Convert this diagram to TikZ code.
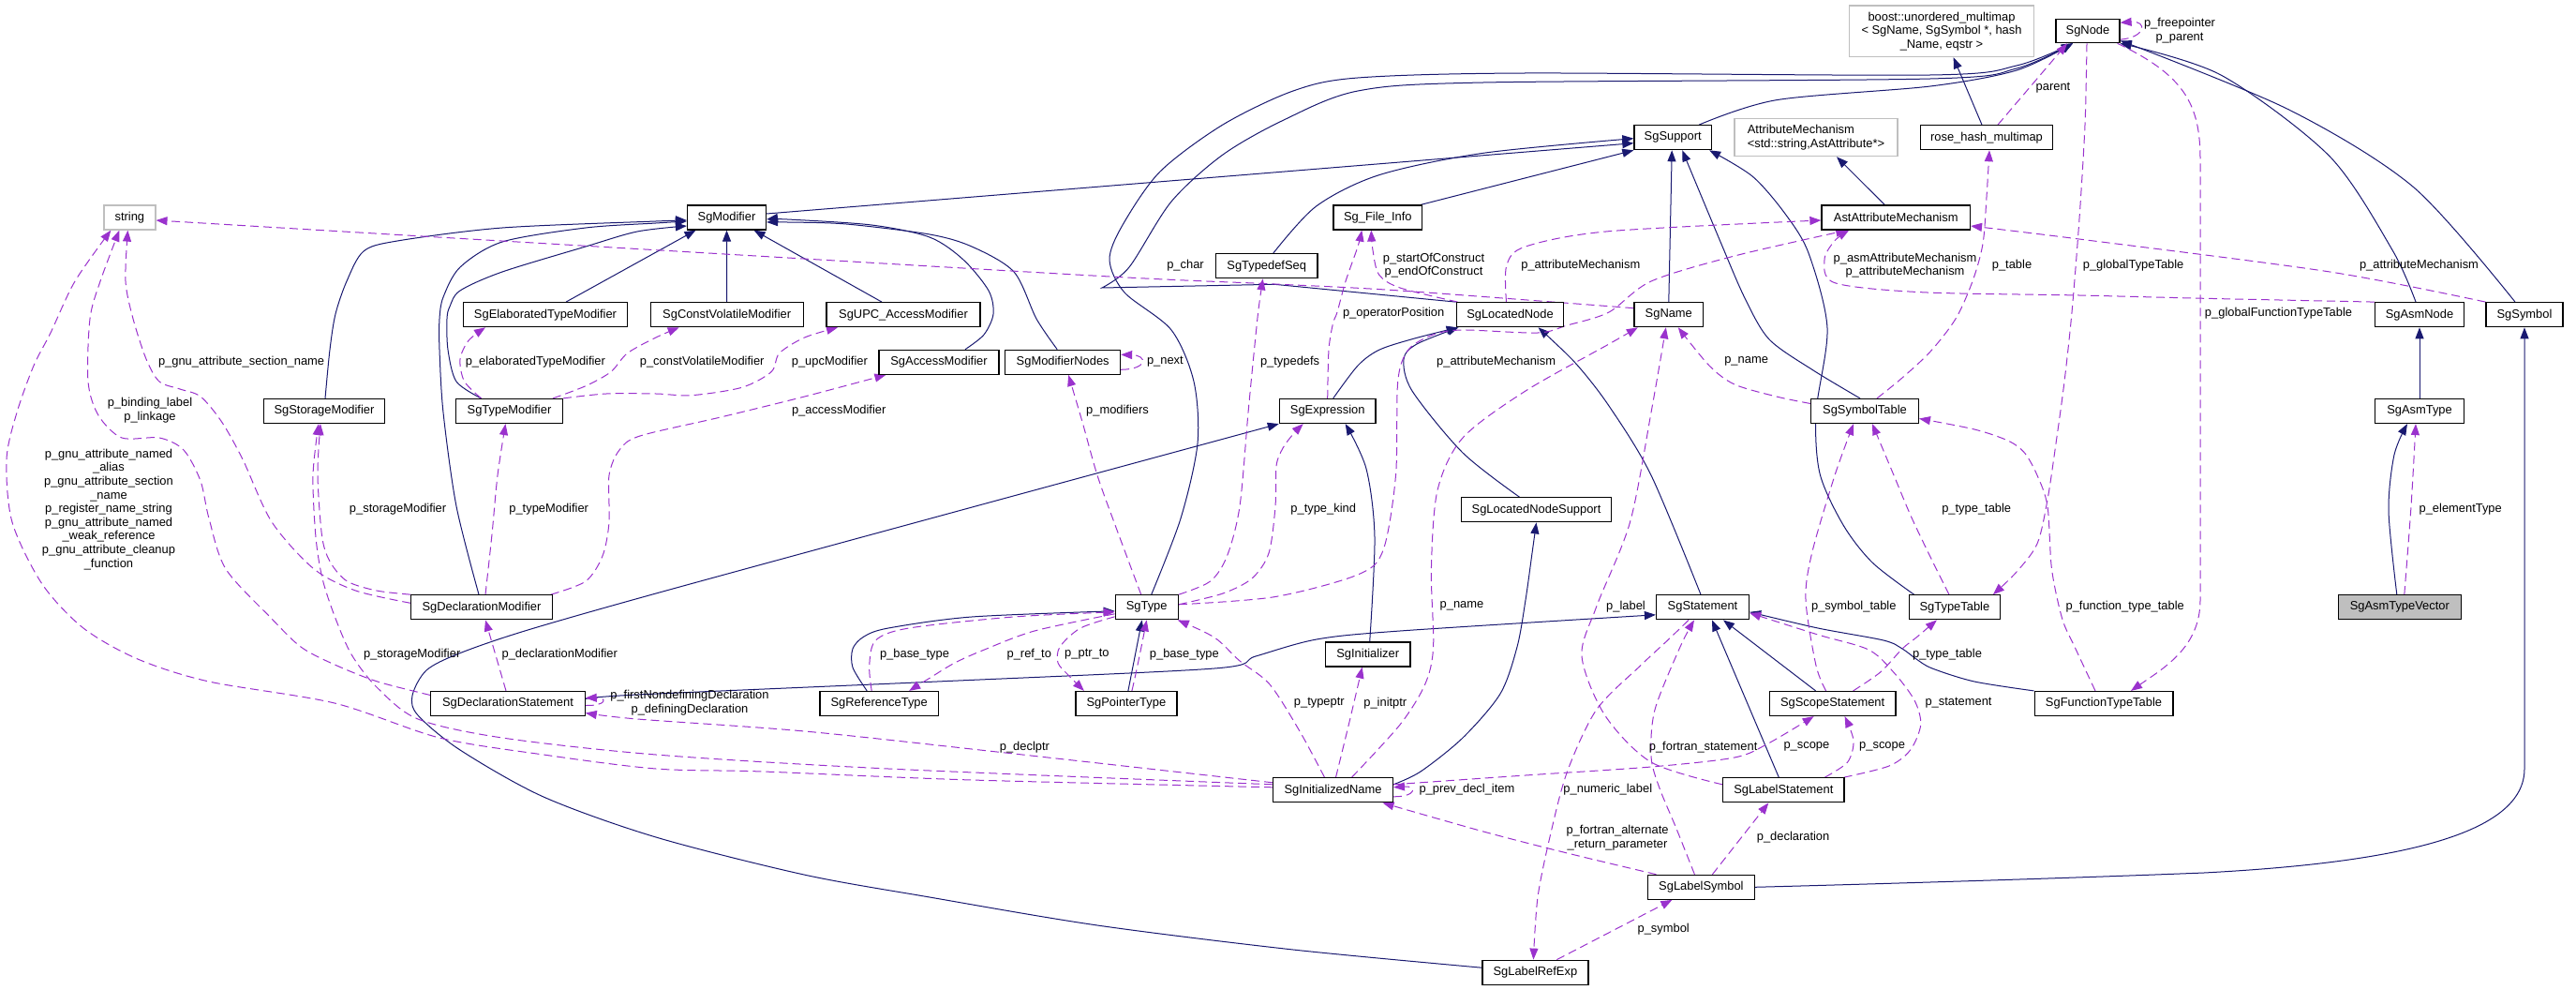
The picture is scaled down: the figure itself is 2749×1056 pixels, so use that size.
\documentclass[tikz,border=0pt]{standalone}
\usepackage{fontspec}
\setmainfont{Liberation Sans}
\usetikzlibrary{arrows.meta}
\definecolor{navy}{RGB}{25,25,112}
\definecolor{purp}{RGB}{154,50,205}
\definecolor{lgray}{RGB}{191,191,191}
\pgfdeclarelayer{bg}
\pgfsetlayers{bg,main}
\newcommand\lf{\fontsize{12.9}{14.6}\selectfont}
\begin{document}
\begin{tikzpicture}[x=1pt,y=-1pt,
  cls/.style={draw=black,line width=1.2pt,fill=white,minimum height=26pt,inner sep=0pt,font=\lf},
  ext/.style={cls,draw=lgray},
  lbl/.style={font=\lf,inner sep=0pt,align=center},
  inh/.style={draw=navy,line width=1pt,-{Triangle[length=12pt,width=9pt]}},
  ptr/.style={draw=purp,line width=1pt,dash pattern=on 9pt off 5pt,-{Triangle[length=12pt,width=9pt]}},
]
\useasboundingbox (0,0) rectangle (2749,1056);
% ---------- nodes ----------
\node[ext,minimum width=55pt] (string) at (138.4,232) {string};
\node[cls,minimum width=84pt] (SgModifier) at (775.5,232) {SgModifier};
\node[cls,minimum width=175pt] (SgElaboratedTypeModifier) at (582,335.7) {SgElaboratedTypeModifier};
\node[cls,minimum width=163pt] (SgConstVolatileModifier) at (775.7,335.7) {SgConstVolatileModifier};
\node[cls,minimum width=164pt] (SgUPC_AccessModifier) at (964,335.7) {SgUPC\_AccessModifier};
\node[cls,minimum width=108.6pt] (SgTypedefSeq) at (1351.7,283.8) {SgTypedefSeq};
\node[ext,minimum width=196.6pt,minimum height=54.7pt,align=center] (boost) at (2072,33.3) {boost::unordered\_multimap\\< SgName, SgSymbol *, hash\\\_Name, eqstr >};
\node[cls,minimum width=68pt,minimum height=25pt] (SgNode) at (2228,33.2) {SgNode};
\node[cls,minimum width=82.6pt] (SgSupport) at (1785.2,146.7) {SgSupport};
\node[ext,minimum width=174pt,minimum height=40pt,align=left] (AttrMech) at (1938,146.7) {AttributeMechanism\\<std::string,AstAttribute*>};
\node[cls,minimum width=94.6pt] (Sg_File_Info) at (1470.3,232) {Sg\_File\_Info};
\node[cls,minimum width=158.5pt] (AstAttributeMechanism) at (2023.2,232) {AstAttributeMechanism};
\node[cls,minimum width=114.7pt] (SgLocatedNode) at (1611.5,335.7) {SgLocatedNode};
\node[cls,minimum width=73.7pt] (SgName) at (1780.8,335.7) {SgName};
\node[cls,minimum width=140.6pt] (rose_hash_multimap) at (2120,146.7) {rose\_hash\_multimap};
\node[cls,minimum width=94.7pt] (SgAsmNode) at (2582,335.7) {SgAsmNode};
\node[cls,minimum width=82pt] (SgSymbol) at (2694,335.7) {SgSymbol};
\node[cls,minimum width=129.4pt] (SgStorageModifier) at (346,438.5) {SgStorageModifier};
\node[cls,minimum width=113.8pt] (SgTypeModifier) at (543.5,438.5) {SgTypeModifier};
\node[cls,minimum width=128pt] (SgAccessModifier) at (1002,386.3) {SgAccessModifier};
\node[cls,minimum width=122.7pt] (SgModifierNodes) at (1134.2,386.3) {SgModifierNodes};
\node[cls,minimum width=102.7pt] (SgExpression) at (1416.7,438.5) {SgExpression};
\node[cls,minimum width=114.7pt] (SgSymbolTable) at (1990,438.5) {SgSymbolTable};
\node[cls,minimum width=94.7pt] (SgAsmType) at (2582,438.5) {SgAsmType};
\node[cls,minimum width=159.8pt] (SgLocatedNodeSupport) at (1639.5,543.8) {SgLocatedNodeSupport};
\node[cls,minimum width=150.5pt] (SgDeclarationModifier) at (514,647.8) {SgDeclarationModifier};
\node[cls,minimum width=67pt] (SgType) at (1223.7,647.8) {SgType};
\node[cls,minimum width=99pt] (SgStatement) at (1817,647.8) {SgStatement};
\node[cls,minimum width=97.4pt] (SgTypeTable) at (2085.9,647.8) {SgTypeTable};
\node[cls,minimum width=130.8pt,fill=lgray] (SgAsmTypeVector) at (2560.8,647.8) {SgAsmTypeVector};
\node[cls,minimum width=90.6pt] (SgInitializer) at (1459.7,698) {SgInitializer};
\node[cls,minimum width=164.3pt] (SgDeclarationStatement) at (542,750.5) {SgDeclarationStatement};
\node[cls,minimum width=126.4pt] (SgReferenceType) at (938.2,750.5) {SgReferenceType};
\node[cls,minimum width=108pt] (SgPointerType) at (1201.9,750.5) {SgPointerType};
\node[cls,minimum width=134.8pt] (SgScopeStatement) at (1955.6,750.5) {SgScopeStatement};
\node[cls,minimum width=147.8pt] (SgFunctionTypeTable) at (2245,750.5) {SgFunctionTypeTable};
\node[cls,minimum width=127.7pt] (SgInitializedName) at (1422.5,842.8) {SgInitializedName};
\node[cls,minimum width=129.4pt] (SgLabelStatement) at (1903.3,842.8) {SgLabelStatement};
\node[cls,minimum width=113.4pt] (SgLabelSymbol) at (1815.4,946.3) {SgLabelSymbol};
\node[cls,minimum width=113pt] (SgLabelRefExp) at (1638.4,1037.2) {SgLabelRefExp};
% ---------- edges ----------
\begin{pgfonlayer}{bg}
% inheritance
\draw[inh] ([yshift=4pt]SgModifier.east) -- ([yshift=-6pt]SgSupport.west);
\draw[inh] ([xshift=-2pt]Sg_File_Info.north east) -- (SgSupport.south west);
\draw[inh] plot[smooth] coordinates {([xshift=7pt]SgTypedefSeq.north) (1404.6,220) (1471.6,186.7) (1583,163.3) ([yshift=-1pt]SgSupport.west)};
\draw[inh] plot[smooth] coordinates {([xshift=28pt]SgSupport.north) (1895.7,106.7) (2060,92) (2152,75) ([xshift=-16pt]SgNode.south)};
\draw[inh] plot[smooth] coordinates {([xshift=5pt]SgType.north) (1260,553) (1278,473) (1274,407) (1250,352) (1200,312) (1184,277) (1198,240) (1238,183) (1305,133) (1380,97) (1449,83) (1628,78) (2060,80) (2152,70) ([xshift=-16pt]SgNode.south)};
\draw[inh] (SgLocatedNode.north west) -- (1360,303.3) -- (1176,307) -- plot[smooth] coordinates {(1176,307) (1205,285) (1250,215) (1305,165) (1370,128) (1449,97) (1583,88) (2060,84) (2152,73) ([xshift=-16pt]SgNode.south)};
\draw[inh] plot[smooth] coordinates {([xshift=-4pt]SgAsmNode.north) (2553,266.7) (2486,166.7) (2370,80) (SgNode.south east)};
\draw[inh] plot[smooth] coordinates {([xshift=-10pt]SgSymbol.north) (2576,200) (2442,116.7) ([yshift=3pt]SgNode.south east)};
\draw[inh] ([xshift=-5pt]rose_hash_multimap.north) -- ([xshift=12.6pt]boost.south);
\draw[inh] ([xshift=-12pt]AstAttributeMechanism.north) -- ([xshift=22pt]AttrMech.south);
\draw[inh] (SgName.north) -- ([xshift=-1pt]SgSupport.south);
\draw[inh] plot[smooth] coordinates {([xshift=-5pt]SgSymbolTable.north) (1935,395) (1888,362) (1862,318) (1836,258) ([xshift=10pt]SgSupport.south)};
\draw[inh] plot[smooth] coordinates {([xshift=6pt]SgTypeTable.north west) (1998,600) (1967,560) (1942,505) (1938,440) (1950,350) (1930,270) (1905,228) (1870,188) ([xshift=-3pt]SgSupport.south east)};
\draw[inh] plot[smooth] coordinates {([xshift=6pt]SgExpression.north) (1449,390) (1471.6,373.3) (1507,361.7) ([xshift=2pt]SgLocatedNode.south west)};
\draw[inh] plot[smooth] coordinates {([xshift=-18pt]SgLocatedNodeSupport.north) (1561,483) (1507,417) (1498,383) (1512,367) ([xshift=3pt]SgLocatedNode.south west)};
\draw[inh] plot[smooth] coordinates {([xshift=-2pt]SgStatement.north) (1762,507) (1717,433) (1681,387) ([xshift=30pt]SgLocatedNode.south)};
\draw[inh] plot[smooth] coordinates {([yshift=5pt]SgDeclarationStatement.east) (680,741) (1000,727) (1296,713) (1340,700) (1405,682) (1494,673) ([yshift=-8pt]SgStatement.west)};
\draw[inh] ([xshift=-18pt]SgScopeStatement.north) -- ([xshift=22pt]SgStatement.south);
\draw[inh] ([xshift=-5pt]SgLabelStatement.north) -- ([xshift=10pt]SgStatement.south);
\draw[inh] plot[smooth] coordinates {(SgFunctionTypeTable.north west) (2107,727) (2062,713) (2045,703) (2030,692) (2010,683) (1940,670) ([yshift=-5pt]SgStatement.east)};
\draw[inh] plot[smooth] coordinates {([xshift=2pt]SgInitializer.north) (1467,573) (1458,500) ([xshift=19pt]SgExpression.south)};
\draw[inh] plot[smooth] coordinates {([yshift=5pt]SgLabelRefExp.west) (1380,1013) (1171,987) (992,957) (858,933) (700,893) (580,850) (491,800) (446,763) (440,742) (455,715) (490,697) (560,673) (700,633) (1030,543) (SgExpression.south west)};
\draw[inh] plot[smooth] coordinates {([yshift=6pt]SgInitializedName.east) (1516,823) (1561,787) (1601,740) (1619,690) (1628,640) (1635,590) (SgLocatedNodeSupport.south)};
\draw[inh] plot[smooth] coordinates {([xshift=-13pt]SgReferenceType.north) (910,712) (910,692) (922,679) (948,670) (1037,658) ([yshift=-4pt]SgType.west)};
\draw[inh] ([xshift=2pt]SgPointerType.north) -- ([xshift=-5pt]SgType.south);
\draw[inh] (SgLabelSymbol.east) .. controls (2000,943) and (2200,937) .. (2352,931) .. controls (2560,920) and (2694,890) .. (2694,820) -- (SgSymbol.south);
\draw[inh] (SgAsmType.north) -- (SgAsmNode.south);
\draw[inh] plot[smooth] coordinates {([xshift=-3pt]SgAsmTypeVector.north) (2549,545) (2555,485) ([xshift=-13pt]SgAsmType.south)};
\draw[inh] plot[smooth] coordinates {([xshift=1pt]SgStorageModifier.north) (352,373) (358,335) (370,300) (388,268) (424,257) (536,243) (700,236) ([yshift=-3pt]SgModifier.west)};
\draw[inh] plot[smooth] coordinates {([xshift=-3pt]SgDeclarationModifier.north) (487,540) (473,440) (469,373) (469,340) (473,317) (491,285) (536,258) (625,243) (700,238) ([yshift=-4pt]SgModifier.west)};
\draw[inh] plot[smooth] coordinates {([xshift=-30pt]SgTypeModifier.north) (487,407) (478,373) (477,340) (480,327) (491,310) (536,290) (625,263) (680,247) ([yshift=-9pt]SgModifier.west)};
\draw[inh] ([xshift=22pt]SgElaboratedTypeModifier.north) -- ([xshift=-33pt]SgModifier.south);
\draw[inh] (SgConstVolatileModifier.north) -- (SgModifier.south);
\draw[inh] ([xshift=-23pt]SgUPC_AccessModifier.north) -- ([xshift=29pt]SgModifier.south);
\draw[inh] plot[smooth] coordinates {([xshift=28pt]SgAccessModifier.north) (1050,357) (1060,335) (1055,310) (1028,277) (992,253) (930,240) (840,234) ([yshift=-2pt]SgModifier.east)};
\draw[inh] plot[smooth] coordinates {([xshift=-6pt]SgModifierNodes.north) (1106,340) (1082,290) (1037,263) (992,250) (903,239) (840,237) ([yshift=-5pt]SgModifier.east)};
% usage
\draw[ptr] plot[smooth] coordinates {([yshift=7pt]SgName.west) (1494,310) (1360,303) (1184,295) (700,266.7) (400,249) ([yshift=-3pt]string.east)};
\draw[ptr] plot[smooth] coordinates {([yshift=4.5pt]SgDeclarationModifier.west) (379.5,630) (334.8,606.7) (290,556.7) (259,490) (236.6,450) (214,423) (192,415) (170,407) (156,383) (142,340) (134,300) ([xshift=-2pt]string.south)};
\draw[ptr] plot[smooth] coordinates {([yshift=9pt]SgDeclarationStatement.west) (401.8,726.7) (355,708) (321,690) (290,660) (241,607) (223,553) (214,513) (196,480) (170,467) (130,467) (105,443) (94,407) (96,340) (107,300) ([xshift=-11pt]string.south)};
\draw[ptr] plot[smooth] coordinates {([yshift=3pt]SgInitializedName.west) (1037,832) (814,823) (700,820) (580,805) (469,787) (357,750) (223,727) (147,703) (89,670) (45,623) (13,557) (7,490) (18,440) (36,390) (54,355) (80,300) ([xshift=-20pt]string.south)};
\draw[ptr] plot[smooth] coordinates {([yshift=6pt]SgInitializedName.west) (948,820) (700,805) (536,787) (446,767) (402,733) (375,698) (357,657) (344,617) (337,573) (334,507) ([xshift=-6pt]SgStorageModifier.south)};
\draw[ptr] plot[smooth] coordinates {(SgDeclarationModifier.north west) (401.8,630) (370.5,620) (352.7,600) (343.75,573) (339,506.7) ([xshift=-4pt]SgStorageModifier.south)};
\draw[ptr] plot[smooth] coordinates {([xshift=4pt]SgDeclarationModifier.north) (525,570) (531,507) ([xshift=-4pt]SgTypeModifier.south)};
\draw[ptr] plot[smooth] coordinates {([xshift=-2pt]SgDeclarationModifier.north east) (625,620) (643,593) (650,557) (650,507) (661,480) (683,465) (769,445) (858.6,423) ([xshift=8pt]SgAccessModifier.south west)};
\draw[ptr] plot[smooth] coordinates {([xshift=-30pt]SgTypeModifier.north) (495.5,406.7) (491,383.3) (500,363.3) ([xshift=-64pt]SgElaboratedTypeModifier.south)};
\draw[ptr] plot[smooth] coordinates {([xshift=-11pt]SgTypeModifier.north east) (625,411.7) (651.8,396.7) (669.6,376.7) (700,360) ([xshift=-51pt]SgConstVolatileModifier.south)};
\draw[ptr] plot[smooth] coordinates {(SgTypeModifier.north east) (647,420) (700,420) (738,421.7) (791.6,413.3) (823,396.7) (831.8,376.7) (858.6,360) ([xshift=-70pt]SgUPC_AccessModifier.south)};
\draw[ptr] ([yshift=-8pt]SgModifierNodes.east) .. controls (1225,394) and (1225,379) .. ([yshift=8pt]SgModifierNodes.east);
\draw[ptr] plot[smooth] coordinates {([xshift=-6pt]SgType.north) (1190,560) (1171,507) (1155,450) ([xshift=6pt]SgModifierNodes.south)};
\draw[ptr] plot[smooth] coordinates {(SgType.north east) (1291.6,620) (1309.5,593) (1323,540) (1332,440) (1338.5,373) (1343,330) ([xshift=-4pt]SgTypedefSeq.south)};
\draw[ptr] plot[smooth] coordinates {([yshift=3pt]SgType.east) (1305,633) (1336,617) (1354,590) (1361,540) (1362,497) (1369,478) (1380,463) ([xshift=-26pt]SgExpression.south)};
\draw[ptr] plot[smooth] coordinates {([yshift=3pt]SgType.east) (1360,636.7) (1449,613) (1476,587) (1489.5,507) (1491.7,407) (1503,373) (1529.6,357) (1561,352) (1641,355) (1672.5,347) (1717,333) (1762,300) (1851,273) ([xshift=-52pt]AstAttributeMechanism.south)};
\draw[ptr] plot[smooth] coordinates {([xshift=-4pt]SgLocatedNode.north) (1607.8,283) (1628,263) (1717,246.7) ([yshift=-3pt]AstAttributeMechanism.west)};
\draw[ptr] plot[smooth] coordinates {(SgAsmNode.north west) (2352.5,318.3) (2218.6,315) (2050,311.7) (1958,301.7) (1947,276.7) (1958,256.7) ([xshift=-50pt]AstAttributeMechanism.south)};
\draw[ptr] plot[smooth] coordinates {(SgSymbol.north west) (2486.4,290) (2218.6,255) ([yshift=-9pt]AstAttributeMechanism.east)};
\draw[ptr] plot[smooth] coordinates {([xshift=13pt]SgSymbolTable.north) (2030,403) (2060,375) (2087,340) (2105,300) (2116,260) (2120,210) ([xshift=3pt]rose_hash_multimap.south)};
\draw[ptr] ([xshift=12pt]rose_hash_multimap.north) -- ([xshift=-22pt]SgNode.south);
\draw[ptr] ([yshift=-9pt]SgNode.east) .. controls (2290,40) and (2292,22) .. ([yshift=9pt]SgNode.east);
\draw[ptr] plot[smooth] coordinates {([xshift=-1pt]SgNode.south) (2225,133) (2219,233) (2211,333) (2203,407) (2194,473) (2185,533) (2174,580) (2152,610) ([xshift=41pt]SgTypeTable.north)};
\draw[ptr] ([xshift=-3pt]SgNode.south east) .. controls (2330,80) and (2348,110) .. (2348,170) -- (2348,640) .. controls (2348,690) and (2310,712) .. ([xshift=29pt]SgFunctionTypeTable.north);
\draw[ptr] plot[smooth] coordinates {([xshift=-9pt]SgFunctionTypeTable.north) (2214,690) (2200.7,660) (2189.5,607) (2185,540) (2174,507) (2160.5,483) (2142.7,470) (2107,458) ([yshift=-8pt]SgSymbolTable.east)};
\draw[ptr] plot[smooth] coordinates {([xshift=-6pt]SgTypeTable.north) (2058,590) (2039,550) (2021,507) ([xshift=8pt]SgSymbolTable.south)};
\draw[ptr] plot[smooth] coordinates {([xshift=-7pt]SgScopeStatement.north) (1938,710) (1927,640) (1933.6,590) (1958,507) ([xshift=-12pt]SgSymbolTable.south)};
\draw[ptr] plot[smooth] coordinates {([xshift=22pt]SgScopeStatement.north) (2007,716.7) (2030,692) (2045,680) ([xshift=-19pt]SgTypeTable.south)};
\draw[ptr] plot[smooth] coordinates {([yshift=8pt]SgSymbolTable.west) (1895.7,423) (1851,410) (1824,390) ([xshift=10pt]SgName.south)};
\draw[ptr] plot[smooth] coordinates {([xshift=20pt]SgInitializedName.north) (1494,773) (1520.7,730) (1529.6,690) (1527.4,607) (1534,523) (1561,467) (1628,417) (1717,367) ([xshift=-33pt]SgName.south)};
\draw[ptr] plot[smooth] coordinates {([yshift=6pt]SgLabelStatement.west) (1762,813) (1712.7,763) (1688,700) (1703.7,647) (1739.5,557) (1762,440) ([xshift=-3pt]SgName.south)};
\draw[ptr] plot[smooth] coordinates {([xshift=-1pt]SgLabelStatement.north east) (2016,817) (2038.6,800) (2049.7,773) (2043,747) (2020.7,717) (1994,693) (1940,677) ([yshift=-6pt]SgStatement.east)};
\draw[ptr] plot[smooth] coordinates {([xshift=-15pt]SgStatement.south) (1779.6,683) (1750.6,710) (1703.7,757) (1672.5,823) (1654.6,890) (1641,957) ([xshift=-2pt]SgLabelRefExp.north)};
\draw[ptr] plot[smooth] coordinates {([xshift=-7pt]SgLabelSymbol.north) (1788.6,883) (1770.7,840) (1762,807) (1766,757) (1793,690) ([xshift=-9pt]SgStatement.south)};
\draw[ptr] plot[smooth] coordinates {([yshift=6pt]SgInitializedName.east) (1628,827) (1762,818) (1851,808) (1887,793) ([xshift=-20pt]SgScopeStatement.south)};
\draw[ptr] plot[smooth] coordinates {([xshift=44pt]SgLabelStatement.north) (1971.6,813) (1978,790) ([xshift=13pt]SgScopeStatement.south)};
\draw[ptr] ([yshift=-7pt]SgInitializedName.east) .. controls (1512,850) and (1512,838) .. ([yshift=3pt]SgInitializedName.east);
\draw[ptr] plot[smooth] coordinates {([xshift=-48pt]SgLabelSymbol.north) (1672.5,910) (1583,887) ([xshift=53pt]SgInitializedName.south)};
\draw[ptr] ([xshift=12pt]SgLabelSymbol.north) -- ([xshift=-16pt]SgLabelStatement.south);
\draw[ptr] ([xshift=23pt]SgLabelRefExp.north) -- ([xshift=-31pt]SgLabelSymbol.south);
\draw[ptr] plot[smooth] coordinates {([xshift=-9pt]SgInitializedName.north) (1387,780) (1355,730) (1323,705) (1296,680) ([xshift=-1pt]SgType.south east)};
\draw[ptr] plot[smooth] coordinates {([xshift=3pt]SgInitializedName.north) (1440,770) ([xshift=-6pt]SgInitializer.south)};
\draw[ptr] plot[smooth] coordinates {([xshift=-8pt]SgReferenceType.north) (927.7,710) (934.5,683) (970,670) (1081.8,658) ([yshift=-5pt]SgType.west)};
\draw[ptr] plot[smooth] coordinates {([yshift=-7pt]SgType.west) (1104,673) (1050.5,693) (1019,707) (992.5,723) ([xshift=32pt]SgReferenceType.north)};
\draw[ptr] plot[smooth] coordinates {([yshift=-10pt]SgType.west) (1153,670) (1131,690) (1129,707) (1140,720) ([xshift=-45pt]SgPointerType.north)};
\draw[ptr] ([xshift=6pt]SgPointerType.north) .. controls (1212,720) and (1218,690) .. (SgType.south);
\draw[ptr] plot[smooth] coordinates {([xshift=2pt]SgLocatedNode.north west) (1494,307) (1471.6,293) (1465,267) ([xshift=-7pt]Sg_File_Info.south)};
\draw[ptr] plot[smooth] coordinates {(SgExpression.north) (1418,373) (1422.5,345) (1427,333) (1436,300) (1449,263) ([xshift=-17pt]Sg_File_Info.south)};
\draw[ptr] ([xshift=-2pt]SgDeclarationStatement.north) -- ([xshift=4pt]SgDeclarationModifier.south);
\draw[ptr] ([yshift=-2pt]SgDeclarationStatement.east) .. controls (648,753) and (648,744) .. ([yshift=6pt]SgDeclarationStatement.east);
\draw[ptr] plot[smooth] coordinates {([yshift=8pt]SgInitializedName.west) (1064,802) (858.6,780) (680,767) ([yshift=-10pt]SgDeclarationStatement.east)};
\draw[ptr] plot[smooth] coordinates {([xshift=5pt]SgAsmTypeVector.north) (2573,540) ([xshift=-4pt]SgAsmType.south)};
\end{pgfonlayer}
% ---------- labels ----------
\node[lbl] (l1) at (1265,282.7) {p\_char};
\node[lbl] (l2) at (1530,283.3) {p\_startOfConstruct\\p\_endOfConstruct};
\node[lbl] (l3) at (1686.8,282.7) {p\_attributeMechanism};
\node[lbl] (l4) at (1487.2,334.3) {p\_operatorPosition};
\node[lbl] (l5) at (2033,283.3) {p\_asmAttributeMechanism\\p\_attributeMechanism};
\node[lbl] (l6) at (2326,32.5) {p\_freepointer\\p\_parent};
\node[lbl] (l7) at (2191,93.3) {parent};
\node[lbl] (l8) at (2147,282.7) {p\_table};
\node[lbl] (l9) at (2276.6,282.7) {p\_globalTypeTable};
\node[lbl] (l10) at (2581.5,282.7) {p\_attributeMechanism};
\node[lbl] (l11) at (2431.5,334.3) {p\_globalFunctionTypeTable};
\node[lbl] (l12) at (257.6,385.7) {p\_gnu\_attribute\_section\_name};
\node[lbl] (l13) at (160,437.8) {p\_binding\_label\\p\_linkage};
\node[lbl] (l14) at (116,543.4) {p\_gnu\_attribute\_named\\\_alias\\p\_gnu\_attribute\_section\\\_name\\p\_register\_name\_string\\p\_gnu\_attribute\_named\\\_weak\_reference\\p\_gnu\_attribute\_cleanup\\\_function};
\node[lbl] (l15) at (571.4,385.7) {p\_elaboratedTypeModifier};
\node[lbl] (l16) at (424.6,542.7) {p\_storageModifier};
\node[lbl] (l17) at (585.7,542.7) {p\_typeModifier};
\node[lbl] (l18) at (439.7,697.7) {p\_storageModifier};
\node[lbl] (l19) at (597.3,697.7) {p\_declarationModifier};
\node[lbl] (l20) at (749.2,385.7) {p\_constVolatileModifier};
\node[lbl] (l21) at (885.4,385.7) {p\_upcModifier};
\node[lbl] (l22) at (1243.4,385.7) {p\_next};
\node[lbl] (l23) at (895.2,437.7) {p\_accessModifier};
\node[lbl] (l24) at (1192.5,437.7) {p\_modifiers};
\node[lbl] (l25) at (1376.6,385.7) {p\_typedefs};
\node[lbl] (l26) at (976,697.7) {p\_base\_type};
\node[lbl] (l27) at (1098.3,697.7) {p\_ref\_to};
\node[lbl] (l28) at (1159.9,697.7) {p\_ptr\_to};
\node[lbl] (l29) at (1263.9,697.7) {p\_base\_type};
\node[lbl] (l30) at (1596.6,385.7) {p\_attributeMechanism};
\node[lbl] (l31) at (1863.6,385.7) {p\_name};
\node[lbl] (l32) at (1412.2,542.7) {p\_type\_kind};
\node[lbl] (l33) at (1560,646.7) {p\_name};
\node[lbl] (l34) at (1735,646.7) {p\_label};
\node[lbl] (l35) at (1978.3,646.7) {p\_symbol\_table};
\node[lbl] (l36) at (2109.2,542.7) {p\_type\_table};
\node[lbl] (l37) at (2267.7,646.7) {p\_function\_type\_table};
\node[lbl] (l38) at (2625.7,542.7) {p\_elementType};
\node[lbl] (l39) at (2078,697.7) {p\_type\_table};
\node[lbl] (l40) at (736,749.7) {p\_firstNondefiningDeclaration\\p\_definingDeclaration};
\node[lbl] (l41) at (1093.4,796.7) {p\_declptr};
\node[lbl] (l42) at (1407.8,750) {p\_typeptr};
\node[lbl] (l43) at (1478.3,750) {p\_initptr};
\node[lbl] (l44) at (1817.6,796.7) {p\_fortran\_statement};
\node[lbl] (l45) at (1927.9,796.7) {p\_scope};
\node[lbl] (l46) at (2008.6,796.7) {p\_scope};
\node[lbl] (l47) at (1565.4,841.7) {p\_prev\_decl\_item};
\node[lbl] (l48) at (1715.8,841.7) {p\_numeric\_label};
\node[lbl] (l49) at (1726,893.7) {p\_fortran\_alternate\\\_return\_parameter};
\node[lbl] (l50) at (1913.6,893.3) {p\_declaration};
\node[lbl] (l51) at (1775.2,990.7) {p\_symbol};
\node[lbl] (l52) at (2090,750) {p\_statement};
\end{tikzpicture}
\end{document}
